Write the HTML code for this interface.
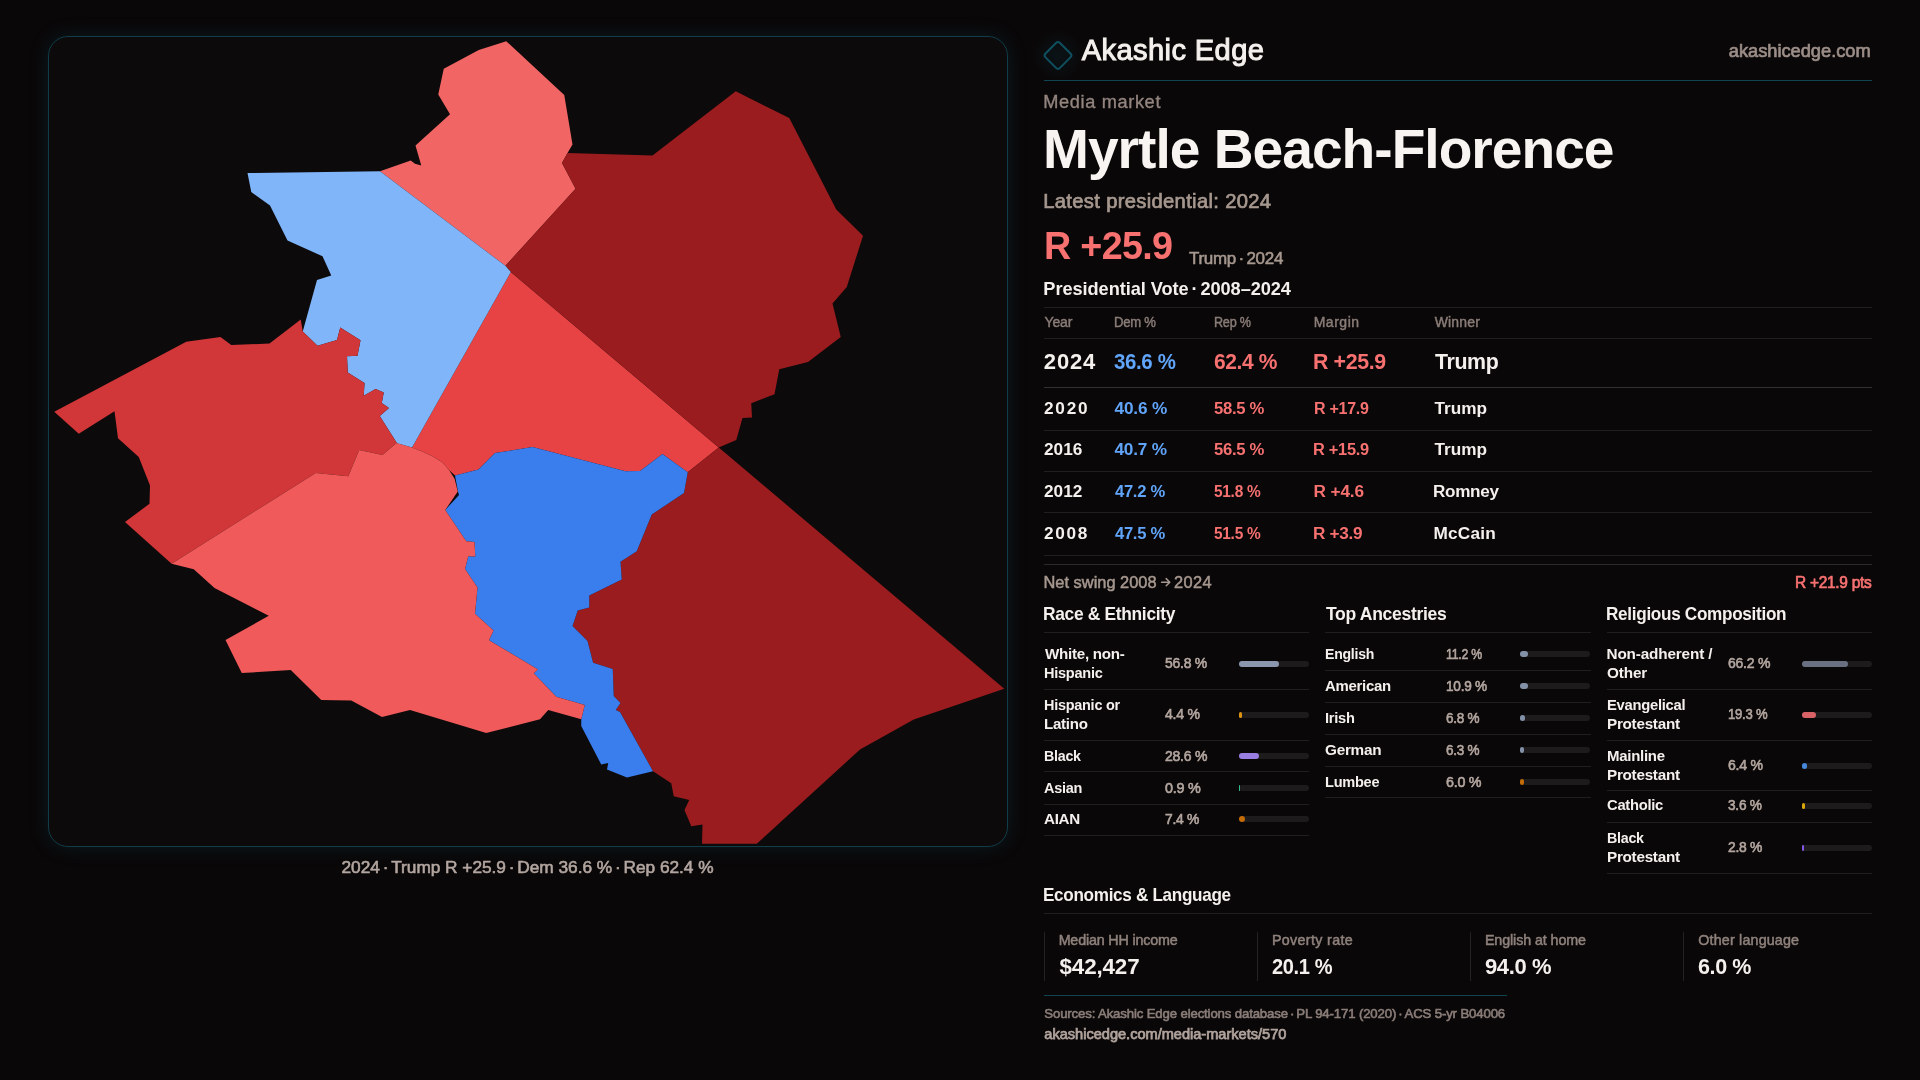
<!DOCTYPE html>
<html><head><meta charset="utf-8"><title>Myrtle Beach-Florence</title>
<style>
html,body{margin:0;padding:0;}
body{width:1920px;height:1080px;overflow:hidden;background:#0a0708;font-family:"Liberation Sans",sans-serif;position:relative;}
.t{position:absolute;transform-origin:0 0;white-space:pre;line-height:1;font-family:"Liberation Sans",sans-serif;}
.panel{position:absolute;left:48px;top:36px;width:958px;height:809px;border:1px solid #0f3d48;border-radius:20px;background:#0d0a0b;box-shadow:0 0 20px rgba(14,110,135,0.2);}
.ln{position:absolute;height:1px;background:#221e1f;}
.vl{position:absolute;width:1px;background:#262223;}
.bar{position:absolute;height:6px;width:70px;border-radius:3px;background:#1e1b1c;}
.bar i{position:absolute;left:0;top:0;height:6px;border-radius:3px;display:block;}
svg{position:absolute;left:0;top:0;}
</style></head><body>
<div class="panel"></div>
<svg width="1920" height="1080" viewBox="0 0 1920 1080">
<defs><radialGradient id="lg"><stop offset="0" stop-color="#0e6e86" stop-opacity="0.12"/><stop offset="1" stop-color="#0e6e86" stop-opacity="0"/></radialGradient></defs>
<g stroke="none">
<polygon fill="#e74344" points="510.8,272.1 718.75,447.5 687.75,472.25 662.5,454 640,471 625.5,471.25 532.5,447 495,453.1 478.5,469.4 455,475.6 449,470 442.5,462.5 432.5,456.25 421,451 412,447.5"/>
<polygon fill="#f26565" points="506.25,41.25 564.25,95 572.5,144.5 567.5,153 562,163 575.6,188.75 505.4,265.8 380,171.25 410.75,160.5 415,163.75 421.25,165.5 415.5,145.5 450,114.25 438.25,94.5 443.75,68.75 478.75,50"/>
<polygon fill="#9b1c1e" points="567.5,153 652.5,155.5 735.75,91.25 789.25,118 836.25,209.5 863,235.75 846.75,287 832.5,303.5 840.75,337 808,362 779.25,369.25 774.5,394.25 751.25,403.25 752,417.5 742.5,418 736.25,440 718.75,447.5 510.8,272.1 505.4,265.8 575.6,188.75 562,163"/>
<polygon fill="#80b5fa" points="247.5,173 380,171.25 505.4,265.8 510.8,272.1 412,447.5 397,443.25 379.75,416 389,408 381.75,403 383.75,392.5 375.6,388.9 363.75,395.75 364.5,383 347.75,372.5 347,356.25 357.5,355.75 360.5,340.25 340.25,327.5 337,340 317.5,345.75 302.75,331.5 317,280 331.25,275.5 322.5,256.25 287.5,240.5 270,205.5 251.25,192"/>
<polygon fill="#d13638" points="300.75,319.5 269.5,343.6 231.25,345 220.5,337 186.25,341.75 54.25,411.75 78.75,433.75 114.5,411.25 118,438.25 138.75,457 150,485.5 149.5,503.75 125,522 171.6,563.75 315.75,473 348.25,476.25 359.25,450 382.5,455 396.5,443.1 397,443.25 379.75,416 389,408 381.75,403 383.75,392.5 375.6,388.9 363.75,395.75 364.5,383 347.75,372.5 347,356.25 357.5,355.75 360.5,340.25 340.25,327.5 337,340 317.5,345.75 302.75,331.5"/>
<polygon fill="#9b1c1e" points="718.75,447.5 1004.25,688.75 913.75,719.5 860,749.5 756.75,843.75 702,843.75 702.5,824.5 691.25,826.25 684.5,810 689.25,800 673.75,796.25 671.25,783.25 653,771.25 620,712 615.75,710 620.5,703 613.75,696 612.75,669 593.1,662.75 587.5,641 572.5,626 577.75,610.6 589.25,607.5 589.25,595.5 621.75,579.5 620.5,561.75 636.75,551.25 651.75,514.5 684,493 687.75,472.25"/>
<polygon fill="#3a7eee" points="455,475.6 478.5,469.4 495,453.1 532.5,447 625.5,471.25 640,471 662.5,454 687.75,472.25 684,493 651.75,514.5 636.75,551.25 620.5,561.75 621.75,579.5 589.25,595.5 589.25,607.5 577.75,610.6 572.5,626 587.5,641 593.1,662.75 612.75,669 613.75,696 620.5,703 615.75,710 620,712 653,771.25 627,777.5 607,769.5 608.25,763 601.25,764.5 581.25,726 581.25,719.25 584.75,705 556.25,696.75 533.75,673.25 538,669.5 489,640.25 493.5,630.5 475,613.75 477.5,587.5 465,569 468.25,556.25 475.25,556.5 474.5,542 466.25,541.25 445.25,510 459,495 458.1,491.9"/>
<polygon fill="#f15a5a" points="171.6,563.75 315.75,473 348.25,476.25 359.25,450 382.5,455 396.5,443.1 412,447.5 421,451 432.5,456.25 442.5,462.5 449,470 454.6,478.75 457.75,491.5 445.25,510 466.25,541.25 474.5,542 475.25,556.5 468.25,556.25 465,569 477.5,587.5 475,613.75 493.5,630.5 489,640.25 538,669.5 533.75,673.25 556.25,696.75 584.75,705 581.25,719.25 548.25,710 540,719.25 486.25,733 410,710 382,717 351.25,700.5 321.25,700 290.75,670 241.75,673 225.5,640 268.75,615.75 214.5,588 193.75,569.25"/>
</g>
<path d="M1161.6 582.2H1169.6M1166.2 578.6L1169.8 582.2L1166.2 585.8" fill="none" stroke="#a6988f" stroke-width="1.5" stroke-linecap="round" stroke-linejoin="round"/>
<!-- logo diamond -->
<circle cx="1058" cy="55.4" r="26" fill="url(#lg)"/><rect x="1047.8" y="45.2" width="20.4" height="20.4" rx="2.8" ry="2.8" transform="rotate(45 1058 55.4)" fill="none" stroke="#0e5060" stroke-width="2"/>
</svg>
<!-- lines -->
<div class="ln" style="left:1044px;top:80px;width:828px;background:#0f4551;"></div>
<div class="ln" style="left:1044px;top:307px;width:828px;"></div>
<div class="ln" style="left:1044px;top:338px;width:828px;"></div>
<div class="ln" style="left:1044px;top:387px;width:828px;background:#343031;"></div>
<div class="ln" style="left:1044px;top:430px;width:828px;"></div>
<div class="ln" style="left:1044px;top:471px;width:828px;"></div>
<div class="ln" style="left:1044px;top:512px;width:828px;"></div>
<div class="ln" style="left:1044px;top:555px;width:828px;"></div>
<div class="ln" style="left:1044px;top:564px;width:828px;background:#2e2a2b;"></div>
<div class="ln" style="left:1044px;top:632px;width:265px;"></div>
<div class="ln" style="left:1044px;top:689px;width:265px;"></div>
<div class="ln" style="left:1044px;top:740px;width:265px;"></div>
<div class="ln" style="left:1044px;top:771px;width:265px;"></div>
<div class="ln" style="left:1044px;top:804px;width:265px;"></div>
<div class="ln" style="left:1044px;top:835px;width:265px;"></div>
<div class="ln" style="left:1325px;top:632px;width:266px;"></div>
<div class="ln" style="left:1325px;top:670px;width:266px;"></div>
<div class="ln" style="left:1325px;top:702px;width:266px;"></div>
<div class="ln" style="left:1325px;top:734px;width:266px;"></div>
<div class="ln" style="left:1325px;top:766px;width:266px;"></div>
<div class="ln" style="left:1325px;top:797px;width:266px;"></div>
<div class="ln" style="left:1607px;top:632px;width:265px;"></div>
<div class="ln" style="left:1607px;top:689px;width:265px;"></div>
<div class="ln" style="left:1607px;top:740px;width:265px;"></div>
<div class="ln" style="left:1607px;top:790px;width:265px;"></div>
<div class="ln" style="left:1607px;top:822px;width:265px;"></div>
<div class="ln" style="left:1607px;top:873px;width:265px;"></div>
<div class="bar" style="left:1239px;top:661px;"><i style="width:40px;background:#8a97ac;"></i></div>
<div class="bar" style="left:1239px;top:712px;"><i style="width:3px;background:#dc9312;"></i></div>
<div class="bar" style="left:1239px;top:753px;"><i style="width:20px;background:#997de0;"></i></div>
<div class="bar" style="left:1239px;top:785px;"><i style="width:1px;background:#2fbf8b;"></i></div>
<div class="bar" style="left:1239px;top:816px;"><i style="width:6px;background:#c46c08;"></i></div>
<div class="bar" style="left:1520px;top:651px;"><i style="width:8px;background:#8391a8;"></i></div>
<div class="bar" style="left:1520px;top:683px;"><i style="width:7.5px;background:#8391a8;"></i></div>
<div class="bar" style="left:1520px;top:715px;"><i style="width:4.8px;background:#8391a8;"></i></div>
<div class="bar" style="left:1520px;top:747px;"><i style="width:4.4px;background:#8391a8;"></i></div>
<div class="bar" style="left:1520px;top:779px;"><i style="width:4.2px;background:#c46c08;"></i></div>
<div class="bar" style="left:1802px;top:661px;"><i style="width:46.3px;background:#687082;"></i></div>
<div class="bar" style="left:1802px;top:712px;"><i style="width:13.5px;background:#d86266;"></i></div>
<div class="bar" style="left:1802px;top:763px;"><i style="width:4.5px;background:#4688da;"></i></div>
<div class="bar" style="left:1802px;top:803px;"><i style="width:2.5px;background:#d9a60a;"></i></div>
<div class="bar" style="left:1802px;top:845px;"><i style="width:2px;background:#8058e4;"></i></div>
<div class="ln" style="left:1044px;top:913px;width:828px;"></div>
<div class="vl" style="left:1044px;top:932px;height:49px;"></div>
<div class="vl" style="left:1257px;top:932px;height:49px;"></div>
<div class="vl" style="left:1470px;top:932px;height:49px;"></div>
<div class="vl" style="left:1683px;top:932px;height:49px;"></div>
<div class="ln" style="left:1044px;top:995px;width:463px;background:#0f4551;"></div>
<div id="tx" style="position:absolute;left:0;top:0;width:1920px;height:1080px;will-change:transform;">
<span class="t" style="left:1081.75px;top:36px;font-size:29.1px;color:#f4f0ed;letter-spacing:0.385px;-webkit-text-stroke:1.0px #f4f0ed;">Akashic Edge</span>
<span class="t" style="left:1728.78px;top:42px;font-size:18.3px;color:#9c8e88;letter-spacing:-0.025px;-webkit-text-stroke:0.7px #9c8e88;">akashicedge.com</span>
<span class="t" style="left:1043.25px;top:93px;font-size:18.2px;color:#93857f;letter-spacing:0.637px;-webkit-text-stroke:0.35px #93857f;">Media market</span>
<span class="t" style="left:1042.80px;top:121px;font-size:56.4px;color:#f7f4f1;letter-spacing:-1.015px;font-weight:bold;transform:scaleX(0.9777);">Myrtle Beach-Florence</span>
<span class="t" style="left:1043.27px;top:191px;font-size:20.2px;color:#a6988f;letter-spacing:0.324px;-webkit-text-stroke:0.7px #a6988f;">Latest presidential: 2024</span>
<span class="t" style="left:1043.89px;top:227px;font-size:38.9px;color:#f87171;letter-spacing:-0.700px;font-weight:bold;transform:scaleX(0.9693);">R +25.9</span>
<span class="t" style="left:1188.76px;top:250px;font-size:17.1px;color:#a6988f;letter-spacing:-0.308px;-webkit-text-stroke:0.55px #a6988f;transform:scaleX(0.9955);">Trump · 2024</span>
<span class="t" style="left:1043.36px;top:280px;font-size:18.2px;color:#f4f0ed;letter-spacing:-0.063px;font-weight:bold;">Presidential Vote · 2008–2024</span>
<span class="t" style="left:1044.51px;top:315px;font-size:14.0px;color:#8a7d78;letter-spacing:-0.150px;-webkit-text-stroke:0.45px #8a7d78;">Year</span>
<span class="t" style="left:1113.70px;top:315px;font-size:14.0px;color:#8a7d78;letter-spacing:-0.252px;-webkit-text-stroke:0.45px #8a7d78;transform:scaleX(0.9348);">Dem %</span>
<span class="t" style="left:1213.74px;top:315px;font-size:14.0px;color:#8a7d78;letter-spacing:-0.252px;-webkit-text-stroke:0.45px #8a7d78;transform:scaleX(0.9000);">Rep %</span>
<span class="t" style="left:1313.63px;top:315px;font-size:14.0px;color:#8a7d78;letter-spacing:0.527px;-webkit-text-stroke:0.45px #8a7d78;">Margin</span>
<span class="t" style="left:1434.72px;top:315px;font-size:14.0px;color:#8a7d78;letter-spacing:0.155px;-webkit-text-stroke:0.45px #8a7d78;">Winner</span>
<span class="t" style="left:1043.81px;top:351px;font-size:22px;color:#f4f0ed;letter-spacing:0.869px;font-weight:bold;">2024</span>
<span class="t" style="left:1114.18px;top:351px;font-size:22px;color:#60a5fa;letter-spacing:-0.396px;font-weight:bold;transform:scaleX(0.9300);">36.6 %</span>
<span class="t" style="left:1213.84px;top:351px;font-size:22px;color:#f87171;letter-spacing:-0.396px;font-weight:bold;transform:scaleX(0.9540);">62.4 %</span>
<span class="t" style="left:1313.16px;top:351px;font-size:22px;color:#f87171;letter-spacing:-0.396px;font-weight:bold;transform:scaleX(0.9711);">R +25.9</span>
<span class="t" style="left:1434.50px;top:351px;font-size:22px;color:#f4f0ed;letter-spacing:-0.396px;font-weight:bold;transform:scaleX(0.9704);">Trump</span>
<span class="t" style="left:1043.96px;top:400px;font-size:17.2px;color:#f4f0ed;letter-spacing:1.824px;font-weight:bold;">2020</span>
<span class="t" style="left:1114.50px;top:400px;font-size:17.2px;color:#60a5fa;letter-spacing:-0.161px;font-weight:bold;">40.6 %</span>
<span class="t" style="left:1214.24px;top:400px;font-size:17.2px;color:#f87171;letter-spacing:-0.310px;font-weight:bold;transform:scaleX(0.9711);">58.5 %</span>
<span class="t" style="left:1313.50px;top:400px;font-size:17.2px;color:#f87171;letter-spacing:-0.310px;font-weight:bold;transform:scaleX(0.9327);">R +17.9</span>
<span class="t" style="left:1434.50px;top:400px;font-size:17.2px;color:#f4f0ed;letter-spacing:0.001px;font-weight:bold;">Trump</span>
<span class="t" style="left:1043.96px;top:441px;font-size:17.2px;color:#f4f0ed;letter-spacing:0.068px;font-weight:bold;">2016</span>
<span class="t" style="left:1114.50px;top:441px;font-size:17.2px;color:#60a5fa;letter-spacing:-0.211px;font-weight:bold;">40.7 %</span>
<span class="t" style="left:1214.24px;top:441px;font-size:17.2px;color:#f87171;letter-spacing:-0.310px;font-weight:bold;transform:scaleX(0.9711);">56.5 %</span>
<span class="t" style="left:1313.47px;top:441px;font-size:17.2px;color:#f87171;letter-spacing:-0.310px;font-weight:bold;transform:scaleX(0.9545);">R +15.9</span>
<span class="t" style="left:1434.50px;top:441px;font-size:17.2px;color:#f4f0ed;letter-spacing:0.001px;font-weight:bold;">Trump</span>
<span class="t" style="left:1043.96px;top:483px;font-size:17.2px;color:#f4f0ed;letter-spacing:0.068px;font-weight:bold;">2012</span>
<span class="t" style="left:1114.50px;top:483px;font-size:17.2px;color:#60a5fa;letter-spacing:-0.310px;font-weight:bold;transform:scaleX(0.9661);">47.2 %</span>
<span class="t" style="left:1214.26px;top:483px;font-size:17.2px;color:#f87171;letter-spacing:-0.310px;font-weight:bold;transform:scaleX(0.8983);">51.8 %</span>
<span class="t" style="left:1313.42px;top:483px;font-size:17.2px;color:#f87171;letter-spacing:-0.080px;font-weight:bold;">R +4.6</span>
<span class="t" style="left:1433.43px;top:483px;font-size:17.2px;color:#f4f0ed;letter-spacing:-0.310px;font-weight:bold;transform:scaleX(0.9947);">Romney</span>
<span class="t" style="left:1043.96px;top:525px;font-size:17.2px;color:#f4f0ed;letter-spacing:1.734px;font-weight:bold;">2008</span>
<span class="t" style="left:1114.50px;top:525px;font-size:17.2px;color:#60a5fa;letter-spacing:-0.310px;font-weight:bold;transform:scaleX(0.9661);">47.5 %</span>
<span class="t" style="left:1214.26px;top:525px;font-size:17.2px;color:#f87171;letter-spacing:-0.310px;font-weight:bold;transform:scaleX(0.8983);">51.5 %</span>
<span class="t" style="left:1313.43px;top:525px;font-size:17.2px;color:#f87171;letter-spacing:-0.310px;font-weight:bold;transform:scaleX(0.9978);">R +3.9</span>
<span class="t" style="left:1433.42px;top:525px;font-size:17.2px;color:#f4f0ed;letter-spacing:0.248px;font-weight:bold;">McCain</span>
<span class="t" style="left:1043.47px;top:574px;font-size:16.4px;color:#a6988f;letter-spacing:0.012px;-webkit-text-stroke:0.5px #a6988f;">Net swing 2008</span>
<span class="t" style="left:1173.98px;top:574px;font-size:16.4px;color:#a6988f;letter-spacing:0.398px;-webkit-text-stroke:0.5px #a6988f;">2024</span>
<span class="t" style="left:1794.64px;top:574px;font-size:16.4px;color:#f87171;letter-spacing:-0.295px;-webkit-text-stroke:0.7px #f87171;transform:scaleX(0.9430);">R +21.9 pts</span>
<span class="t" style="left:1043.41px;top:605px;font-size:18.2px;color:#f4f0ed;letter-spacing:-0.328px;font-weight:bold;transform:scaleX(0.9551);">Race &amp; Ethnicity</span>
<span class="t" style="left:1325.50px;top:605px;font-size:18.2px;color:#f4f0ed;letter-spacing:-0.328px;font-weight:bold;transform:scaleX(0.9650);">Top Ancestries</span>
<span class="t" style="left:1606.43px;top:605px;font-size:18.2px;color:#f4f0ed;letter-spacing:-0.328px;font-weight:bold;transform:scaleX(0.9428);">Religious Composition</span>
<span class="t" style="left:1044.50px;top:646px;font-size:15.3px;color:#f4f0ed;letter-spacing:-0.275px;font-weight:bold;transform:scaleX(0.9910);">White, non-</span>
<span class="t" style="left:1043.59px;top:665px;font-size:15.3px;color:#f4f0ed;letter-spacing:-0.275px;font-weight:bold;transform:scaleX(0.9503);">Hispanic</span>
<span class="t" style="left:1164.89px;top:655px;font-size:15.3px;color:#b3a69f;letter-spacing:-0.275px;-webkit-text-stroke:0.65px #b3a69f;transform:scaleX(0.9124);">56.8 %</span>
<span class="t" style="left:1043.60px;top:697px;font-size:15.3px;color:#f4f0ed;letter-spacing:-0.275px;font-weight:bold;transform:scaleX(0.9447);">Hispanic or</span>
<span class="t" style="left:1043.56px;top:716px;font-size:15.3px;color:#f4f0ed;letter-spacing:-0.275px;font-weight:bold;transform:scaleX(0.9870);">Latino</span>
<span class="t" style="left:1165.11px;top:706px;font-size:15.3px;color:#b3a69f;letter-spacing:-0.275px;-webkit-text-stroke:0.65px #b3a69f;transform:scaleX(0.9202);">4.4 %</span>
<span class="t" style="left:1043.61px;top:748px;font-size:15.3px;color:#f4f0ed;letter-spacing:-0.275px;font-weight:bold;transform:scaleX(0.9327);">Black</span>
<span class="t" style="left:1164.67px;top:748px;font-size:15.3px;color:#b3a69f;letter-spacing:-0.275px;-webkit-text-stroke:0.65px #b3a69f;transform:scaleX(0.9172);">28.6 %</span>
<span class="t" style="left:1044.27px;top:780px;font-size:15.3px;color:#f4f0ed;letter-spacing:-0.275px;font-weight:bold;transform:scaleX(0.9474);">Asian</span>
<span class="t" style="left:1164.88px;top:780px;font-size:15.3px;color:#b3a69f;letter-spacing:-0.275px;-webkit-text-stroke:0.65px #b3a69f;transform:scaleX(0.9396);">0.9 %</span>
<span class="t" style="left:1044.26px;top:811px;font-size:15.3px;color:#f4f0ed;letter-spacing:-0.275px;font-weight:bold;transform:scaleX(0.9908);">AIAN</span>
<span class="t" style="left:1164.68px;top:811px;font-size:15.3px;color:#b3a69f;letter-spacing:-0.275px;-webkit-text-stroke:0.65px #b3a69f;transform:scaleX(0.9050);">7.4 %</span>
<span class="t" style="left:1324.62px;top:646px;font-size:15.3px;color:#f4f0ed;letter-spacing:-0.275px;font-weight:bold;transform:scaleX(0.9199);">English</span>
<span class="t" style="left:1445.81px;top:646px;font-size:15.3px;color:#b3a69f;letter-spacing:-0.275px;-webkit-text-stroke:0.65px #b3a69f;transform:scaleX(0.8030);">11.2 %</span>
<span class="t" style="left:1325.27px;top:678px;font-size:15.3px;color:#f4f0ed;letter-spacing:-0.275px;font-weight:bold;transform:scaleX(0.9764);">American</span>
<span class="t" style="left:1445.73px;top:678px;font-size:15.3px;color:#b3a69f;letter-spacing:-0.275px;-webkit-text-stroke:0.65px #b3a69f;transform:scaleX(0.8886);">10.9 %</span>
<span class="t" style="left:1324.58px;top:710px;font-size:15.3px;color:#f4f0ed;letter-spacing:-0.275px;font-weight:bold;transform:scaleX(0.9572);">Irish</span>
<span class="t" style="left:1445.94px;top:710px;font-size:15.3px;color:#b3a69f;letter-spacing:-0.275px;-webkit-text-stroke:0.65px #b3a69f;transform:scaleX(0.8847);">6.8 %</span>
<span class="t" style="left:1325.02px;top:742px;font-size:15.3px;color:#f4f0ed;letter-spacing:-0.271px;font-weight:bold;">German</span>
<span class="t" style="left:1445.94px;top:742px;font-size:15.3px;color:#b3a69f;letter-spacing:-0.275px;-webkit-text-stroke:0.65px #b3a69f;transform:scaleX(0.8847);">6.3 %</span>
<span class="t" style="left:1324.59px;top:774px;font-size:15.3px;color:#f4f0ed;letter-spacing:-0.275px;font-weight:bold;transform:scaleX(0.9518);">Lumbee</span>
<span class="t" style="left:1445.91px;top:774px;font-size:15.3px;color:#b3a69f;letter-spacing:-0.275px;-webkit-text-stroke:0.65px #b3a69f;transform:scaleX(0.9322);">6.0 %</span>
<span class="t" style="left:1606.54px;top:646px;font-size:15.3px;color:#f4f0ed;letter-spacing:-0.158px;font-weight:bold;">Non-adherent /</span>
<span class="t" style="left:1607.02px;top:665px;font-size:15.3px;color:#f4f0ed;letter-spacing:-0.153px;font-weight:bold;">Other</span>
<span class="t" style="left:1727.67px;top:655px;font-size:15.3px;color:#b3a69f;letter-spacing:-0.275px;-webkit-text-stroke:0.65px #b3a69f;transform:scaleX(0.9172);">66.2 %</span>
<span class="t" style="left:1606.58px;top:697px;font-size:15.3px;color:#f4f0ed;letter-spacing:-0.275px;font-weight:bold;transform:scaleX(0.9644);">Evangelical</span>
<span class="t" style="left:1606.55px;top:716px;font-size:15.3px;color:#f4f0ed;letter-spacing:-0.275px;font-weight:bold;transform:scaleX(0.9979);">Protestant</span>
<span class="t" style="left:1727.51px;top:706px;font-size:15.3px;color:#b3a69f;letter-spacing:-0.275px;-webkit-text-stroke:0.65px #b3a69f;transform:scaleX(0.8552);">19.3 %</span>
<span class="t" style="left:1606.56px;top:748px;font-size:15.3px;color:#f4f0ed;letter-spacing:-0.275px;font-weight:bold;transform:scaleX(0.9794);">Mainline</span>
<span class="t" style="left:1606.55px;top:767px;font-size:15.3px;color:#f4f0ed;letter-spacing:-0.275px;font-weight:bold;transform:scaleX(0.9979);">Protestant</span>
<span class="t" style="left:1727.67px;top:757px;font-size:15.3px;color:#b3a69f;letter-spacing:-0.275px;-webkit-text-stroke:0.65px #b3a69f;transform:scaleX(0.9186);">6.4 %</span>
<span class="t" style="left:1607.04px;top:797px;font-size:15.3px;color:#f4f0ed;letter-spacing:-0.275px;font-weight:bold;transform:scaleX(0.9641);">Catholic</span>
<span class="t" style="left:1727.90px;top:797px;font-size:15.3px;color:#b3a69f;letter-spacing:-0.275px;-webkit-text-stroke:0.65px #b3a69f;transform:scaleX(0.8925);">3.6 %</span>
<span class="t" style="left:1606.61px;top:830px;font-size:15.3px;color:#f4f0ed;letter-spacing:-0.275px;font-weight:bold;transform:scaleX(0.9327);">Black</span>
<span class="t" style="left:1606.55px;top:849px;font-size:15.3px;color:#f4f0ed;letter-spacing:-0.275px;font-weight:bold;transform:scaleX(0.9979);">Protestant</span>
<span class="t" style="left:1727.68px;top:839px;font-size:15.3px;color:#b3a69f;letter-spacing:-0.275px;-webkit-text-stroke:0.65px #b3a69f;transform:scaleX(0.9050);">2.8 %</span>
<span class="t" style="left:1043.43px;top:886px;font-size:18.2px;color:#f4f0ed;letter-spacing:-0.328px;font-weight:bold;transform:scaleX(0.9409);">Economics &amp; Language</span>
<span class="t" style="left:1058.63px;top:933px;font-size:14.3px;color:#8f827c;letter-spacing:-0.160px;-webkit-text-stroke:0.5px #8f827c;">Median HH income</span>
<span class="t" style="left:1059.50px;top:956px;font-size:22.4px;color:#f4f0ed;letter-spacing:-0.135px;font-weight:bold;">$42,427</span>
<span class="t" style="left:1271.88px;top:933px;font-size:14.3px;color:#8f827c;letter-spacing:0.350px;-webkit-text-stroke:0.5px #8f827c;">Poverty rate</span>
<span class="t" style="left:1272.12px;top:956px;font-size:22.4px;color:#f4f0ed;letter-spacing:-0.403px;font-weight:bold;transform:scaleX(0.8957);">20.1 %</span>
<span class="t" style="left:1484.88px;top:933px;font-size:14.3px;color:#8f827c;letter-spacing:-0.096px;-webkit-text-stroke:0.5px #8f827c;">English at home</span>
<span class="t" style="left:1485.06px;top:956px;font-size:22.4px;color:#f4f0ed;letter-spacing:-0.403px;font-weight:bold;transform:scaleX(0.9834);">94.0 %</span>
<span class="t" style="left:1698.33px;top:933px;font-size:14.3px;color:#8f827c;letter-spacing:0.167px;-webkit-text-stroke:0.5px #8f827c;">Other language</span>
<span class="t" style="left:1698.08px;top:956px;font-size:22.4px;color:#f4f0ed;letter-spacing:-0.403px;font-weight:bold;transform:scaleX(0.9607);">6.0 %</span>
<span class="t" style="left:1044.29px;top:1007px;font-size:13.2px;color:#8b7e79;letter-spacing:-0.141px;-webkit-text-stroke:0.6px #8b7e79;">Sources: Akashic Edge elections database · PL 94-171 (2020) · ACS 5-yr B04006</span>
<span class="t" style="left:1044.32px;top:1027px;font-size:14.6px;color:#b0a39c;letter-spacing:-0.015px;-webkit-text-stroke:0.75px #b0a39c;">akashicedge.com/media-markets/570</span>
<span class="t" style="left:341.49px;top:859px;font-size:17.3px;color:#b3a6a0;letter-spacing:-0.031px;-webkit-text-stroke:0.6px #b3a6a0;">2024 · Trump R +25.9 · Dem 36.6 % · Rep 62.4 %</span>
</div>
</body></html>
